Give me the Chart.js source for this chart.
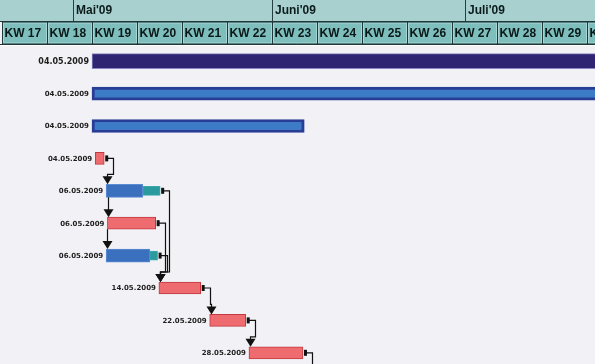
<!DOCTYPE html>
<html>
<head>
<meta charset="utf-8">
<script src="https://cdn.jsdelivr.net/npm/chart.js@4/dist/chart.umd.min.js"></script>
<style>
  html, body { margin: 0; padding: 0; background: #f2f2f6; overflow: hidden; }
  #wrap { width: 595px; height: 369px; }
</style>
</head>
<body>
<div id="wrap"><canvas id="gantt" width="595" height="369"></canvas></div>
<script>
// Zeilen des Gantt-Diagramms (Tage relativ zum 04.05.2009)
const rows = ['Projekt', 'Phase A', 'Phase B', 'Vorgang 1', 'Vorgang 2', 'Vorgang 3', 'Vorgang 4', 'Vorgang 5', 'Vorgang 6', 'Vorgang 7'];
const dateLabels = ['04.05.2009', '04.05.2009', '04.05.2009', '04.05.2009', '06.05.2009', '06.05.2009', '06.05.2009', '14.05.2009', '22.05.2009', '28.05.2009'];

const summaryBars = [[0, 82], null, null, null, null, null, null, null, null, null];
const phaseBars = [null, [0, 82], [0, 33], null, null, null, null, null, null, null];
const redTasks = [null, null, null, [0.5, 1.9], null, [2.4, 9.9], null, [10.4, 16.9], [18.3, 23.9], [24.4, 32.8]];
const blueTasks = [null, null, null, null, [2.2, 7.9], null, [2.2, 9.0], null, null, null];
const tealParts = [null, null, null, null, [7.9, 10.6], null, [9.0, 10.2], null, null, null];

// Abhängigkeiten: [von, nach, Typ] (null = ausserhalb des Bildes)
const links = [[3, 4, 'FS'], [4, 5, 'SS'], [5, 6, 'SS'], [4, 7, 'FS'], [5, 7, 'FS'], [6, 7, 'FS'], [7, 8, 'FS'], [8, 9, 'FS'], [9, null, 'FS']];

// Zeitachse
const monthLabels = ["Apr'09", "Mai'09", "Juni'09", "Juli'09"];
const monthStarts = [-33, -3, 28, 58];
const weekLabels = ['KW 17', 'KW 18', 'KW 19', 'KW 20', 'KW 21', 'KW 22', 'KW 23', 'KW 24', 'KW 25', 'KW 26', 'KW 27', 'KW 28', 'KW 29', 'KW 30'];
const weekStarts = [-14, -7, 0, 7, 14, 21, 28, 35, 42, 49, 56, 63, 70, 77];

const HEADER = 45;

// Plugin pour l'en-tête (mois + semaines)
const headerPlugin = {
    id: 'header',
    afterDraw(chart) {
        const ctx = chart.ctx;
        const x = chart.scales.x;
        const W = chart.width;
        ctx.save();
        ctx.fillStyle = '#a8d0cf';
        ctx.fillRect(0, 0, W, 22);
        ctx.strokeStyle = '#263f3f';
        ctx.lineWidth = 1;
        ctx.font = 'bold 12px "Liberation Sans", Arial, sans-serif';
        ctx.textBaseline = 'middle';
        ctx.fillStyle = '#0c1c1c';
        monthStarts.forEach((m, i) => {
            const px = Math.round(x.getPixelForValue(m)) + 0.5;
            ctx.beginPath();
            ctx.moveTo(px, 0);
            ctx.lineTo(px, 22);
            ctx.stroke();
            ctx.fillText(monthLabels[i], px + 2.5, 11);
        });
        weekStarts.forEach((w, i) => {
            const x0 = Math.round(x.getPixelForValue(w)) + 0.5;
            const x1 = Math.round(x.getPixelForValue(w + 7)) + 0.5;
            ctx.fillStyle = '#7ebfbe';
            ctx.fillRect(x0, 22, x1 - x0, 22);
            ctx.strokeStyle = '#a9d6d5';
            ctx.strokeRect(x0 + 1, 23, x1 - x0 - 2, 20);
            ctx.strokeStyle = '#203838';
            ctx.strokeRect(x0, 22, x1 - x0, 22);
            ctx.fillStyle = '#0a1818';
            ctx.fillText(weekLabels[i], x0 + 2, 33.5);
        });
        ctx.strokeStyle = '#203838';
        ctx.beginPath();
        ctx.moveTo(0, 21.5); ctx.lineTo(W, 21.5);
        ctx.moveTo(0, 44.5); ctx.lineTo(W, 44.5);
        ctx.stroke();
        ctx.strokeStyle = '#ffffff';
        ctx.beginPath();
        ctx.moveTo(0, 45.5); ctx.lineTo(W, 45.5);
        ctx.stroke();
        ctx.restore();
    }
};

// Récupérer les limites d'une ligne
function rowBox(chart, i) {
    let box = null;
    chart.data.datasets.forEach((ds, d) => {
        const el = chart.getDatasetMeta(d).data[i];
        if (!ds.data[i] || !el) return;
        const p = el.getProps(['x', 'base', 'y', 'height'], true);
        const l = Math.min(p.x, p.base), r = Math.max(p.x, p.base);
        if (!box) box = { l: l, r: r, y: p.y, top: p.y - p.height / 2, bottom: p.y + p.height / 2 };
        else {
            box.l = Math.min(box.l, l);
            box.r = Math.max(box.r, r);
            box.top = Math.min(box.top, p.y - p.height / 2);
            box.bottom = Math.max(box.bottom, p.y + p.height / 2);
        }
    });
    return box;
}

function arrowDown(ctx, x, y) {
    ctx.beginPath();
    ctx.moveTo(x - 5, y - 8);
    ctx.lineTo(x + 5, y - 8);
    ctx.lineTo(x, y);
    ctx.closePath();
    ctx.fill();
}

// Plugin pour les dates et les liens
const ganttPlugin = {
    id: 'gantt',
    afterDatasetsDraw(chart) {
        const ctx = chart.ctx;
        ctx.save();
        ctx.fillStyle = '#1e1e1e';
        ctx.textAlign = 'right';
        ctx.textBaseline = 'middle';
        rows.forEach((r, i) => {
            const b = rowBox(chart, i);
            if (!b) return;
            ctx.font = (i === 0 ? 'bold 8px' : 'bold 7px') + ' "DejaVu Sans", sans-serif';
            ctx.fillText(dateLabels[i], b.l - 3, b.y + 0.5);
        });

        ctx.strokeStyle = '#111111';
        ctx.fillStyle = '#111111';
        ctx.lineWidth = 1.2;
        links.forEach(([from, to, type]) => {
            const a = rowBox(chart, from);
            const t = to === null ? null : rowBox(chart, to);
            if (type === 'SS') {
                const xs = Math.round(t.l) + 1.5;
                ctx.beginPath();
                ctx.moveTo(xs, a.bottom);
                ctx.lineTo(xs, t.top - 6);
                ctx.stroke();
                arrowDown(ctx, xs, t.top);
                return;
            }
            const xe = a.r + 2;
            const xr = Math.round(a.r + 9) + 0.5;
            ctx.fillRect(xe - 1, a.y - 3, 3, 6);
            ctx.beginPath();
            ctx.moveTo(xe, a.y);
            ctx.lineTo(xr, a.y);
            if (t) {
                const xs = Math.round(t.l) + 1.5;
                ctx.lineTo(xr, t.top - 10);
                ctx.lineTo(xs, t.top - 10);
                ctx.lineTo(xs, t.top - 6);
                ctx.stroke();
                arrowDown(ctx, xs, t.top);
            } else {
                ctx.lineTo(xr, chart.height);
                ctx.stroke();
            }
        });
        ctx.restore();
    }
};

const ctx = document.getElementById('gantt').getContext('2d');
const ganttChart = new Chart(ctx, {
    type: 'bar',
    data: {
        labels: rows,
        datasets: [
            { data: summaryBars, backgroundColor: '#2e2471', borderColor: '#8884c4', borderWidth: 1, barThickness: 15 },
            { data: phaseBars, backgroundColor: '#3c7cc6', borderColor: '#283d96', borderWidth: 3, barThickness: 13 },
            { data: redTasks, backgroundColor: '#ee6b70', borderColor: '#c2393f', borderWidth: 1, barThickness: 12 },
            { data: blueTasks, backgroundColor: '#3b70bf', borderColor: '#5b8bd2', borderWidth: 1, barThickness: 13 },
            { data: tealParts, backgroundColor: '#2a9a9e', borderColor: '#3aa9ad', borderWidth: 1, barThickness: 9 }
        ]
    },
    options: {
        indexAxis: 'y',
        responsive: false,
        animation: false,
        devicePixelRatio: 1,
        layout: { padding: { top: HEADER, left: 0, right: 0, bottom: 0 } },
        datasets: { bar: { grouped: false, borderSkipped: false } },
        scales: {
            x: { type: 'linear', min: -14.3, max: 78.2, display: false },
            y: { display: false }
        },
        plugins: { legend: { display: false }, tooltip: { enabled: false } }
    },
    plugins: [headerPlugin, ganttPlugin]
});
</script>
</body>
</html>
